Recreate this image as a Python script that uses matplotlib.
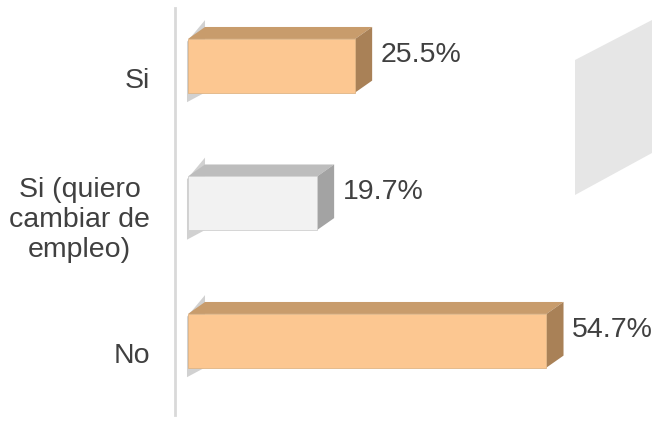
import matplotlib.pyplot as plt
from matplotlib.patches import Polygon
from matplotlib.transforms import ScaledTranslation

plt.rcParams['font.family'] = ['Liberation Sans', 'DejaVu Sans']

# data
categories = ["Si", "Si (quiero\ncambiar de\nempleo)", "No"]
values = [25.5, 19.7, 54.7]

# colours per bar: front / top / side / edge
front_colors = ["#FCC791", "#F2F2F2", "#FCC791"]
top_colors = ["#C89C6C", "#BDBDBD", "#C89C6C"]
side_colors = ["#A98157", "#A3A3A3", "#A98157"]
edge_colors = ["#E0B585", "#D0D0D0", "#E0B585"]
text_color = "#404040"

W, H = 652, 421
fig = plt.figure(figsize=(W / 100, H / 100), dpi=100)
ax = fig.add_axes([175 / W, 6 / H, 477 / W, 407 / H])
ax.patch.set_visible(False)

# faint grey wall piece on the right
wall = Polygon([[575 / W, 1 - 60 / H], [652 / W, 1 - 20 / H],
                [652 / W, 1 - 153 / H], [575 / W, 1 - 195 / H]],
               closed=True, transform=fig.transFigure,
               facecolor="#E6E6E6", edgecolor="none", zorder=0)
fig.patches.append(wall)

ypos = list(range(len(values)))
h = 0.39      # bar thickness
dx = 2.6      # depth in x (percent)
dy = 0.087    # depth in y (category units)

ax.barh(ypos, values, height=h, color=front_colors,
        edgecolor=edge_colors, linewidth=0.6, zorder=3)

for i, v in enumerate(values):
    top = ypos[i] - h / 2
    bot = ypos[i] + h / 2
    # soft shadow on the back wall
    ax.add_patch(Polygon([(-0.15, top + 0.02), (dx, top - dy - 0.05),
                          (dx, bot), (-0.15, bot + 0.07)],
                         closed=True, facecolor="#9A9A9A", alpha=0.45,
                         edgecolor="none", zorder=1))
    # top face
    ax.add_patch(Polygon([(0, top), (v, top), (v + dx, top - dy), (dx, top - dy)],
                         closed=True, facecolor=top_colors[i],
                         edgecolor="none", zorder=2))
    # side face
    ax.add_patch(Polygon([(v, top), (v + dx, top - dy),
                          (v + dx, bot - dy), (v, bot)],
                         closed=True, facecolor=side_colors[i],
                         edgecolor="none", zorder=2))
    ax.text(v + dx + 1.3, ypos[i] - 0.08, f"{v}%", va="center", ha="left",
            fontsize=20.5, color=text_color)

ax.set_xlim(-1.98, 70.8)
ax.set_ylim(2.54, -0.42)

ax.set_xticks([])
ax.set_yticks(ypos, categories)
ax.tick_params(axis="y", length=0, pad=18, labelsize=20.5, labelcolor=text_color)
shift = ScaledTranslation(0, -12 / 100, fig.dpi_scale_trans)
for lbl in ax.get_yticklabels():
    lbl.set_multialignment("center")
    lbl.set_linespacing(1.2)
    lbl.set_transform(lbl.get_transform() + shift)

for s in ["top", "right", "bottom"]:
    ax.spines[s].set_visible(False)
ax.spines["left"].set_color("#D9D9D9")
ax.spines["left"].set_linewidth(2)

fig.savefig("out.png", dpi=100)
